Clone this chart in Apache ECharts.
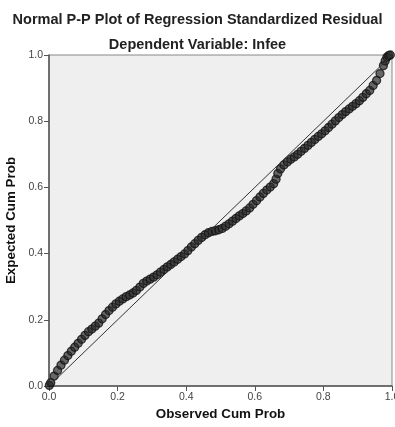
<!DOCTYPE html>
<html lang="en">
<head>
    <meta charset="utf-8">
    <title>Normal P-P Plot</title>
    <script src="https://cdn.jsdelivr.net/npm/echarts@6/dist/echarts.min.js"></script>
</head>
<body style="margin:0; background:#fff;">
<div id="main" style="width: 395px; height: 427px;"></div>
<script type="text/javascript">
    // observed cum prob (x) and expected cum prob (y)
    const observed = [0.001, 0.005, 0.015, 0.025, 0.035, 0.045, 0.055, 0.065, 0.075, 0.085, 0.095,
        0.105, 0.115, 0.125, 0.135, 0.145, 0.155, 0.165, 0.175, 0.185, 0.195,
        0.205, 0.215, 0.225, 0.235, 0.245, 0.255, 0.265, 0.275, 0.285, 0.295,
        0.305, 0.315, 0.325, 0.335, 0.345, 0.355, 0.365, 0.375, 0.385, 0.395,
        0.405, 0.415, 0.425, 0.435, 0.445, 0.455, 0.465, 0.475, 0.485, 0.495,
        0.505, 0.515, 0.525, 0.535, 0.545, 0.555, 0.565, 0.575, 0.585, 0.595,
        0.605, 0.615, 0.625, 0.635, 0.645, 0.655, 0.662, 0.667, 0.675, 0.685, 0.695,
        0.705, 0.715, 0.725, 0.735, 0.745, 0.755, 0.765, 0.775, 0.785, 0.795,
        0.805, 0.815, 0.825, 0.835, 0.845, 0.855, 0.865, 0.875, 0.885, 0.895,
        0.905, 0.915, 0.925, 0.935, 0.945, 0.955, 0.965, 0.975, 0.980, 0.985, 0.990, 0.995];
    const expected = [0.002, 0.010, 0.030, 0.047, 0.063, 0.078, 0.092, 0.105, 0.117, 0.129, 0.141,
        0.153, 0.164, 0.172, 0.181, 0.190, 0.203, 0.216, 0.228, 0.238, 0.248,
        0.256, 0.263, 0.270, 0.275, 0.281, 0.289, 0.299, 0.310, 0.317, 0.323,
        0.329, 0.336, 0.344, 0.352, 0.360, 0.367, 0.375, 0.383, 0.391, 0.399,
        0.409, 0.420, 0.430, 0.440, 0.449, 0.457, 0.463, 0.467, 0.469, 0.472,
        0.476, 0.483, 0.490, 0.498, 0.506, 0.514, 0.521, 0.529, 0.538, 0.549,
        0.560, 0.571, 0.582, 0.592, 0.601, 0.611, 0.625, 0.642, 0.656, 0.668, 0.677,
        0.685, 0.692, 0.700, 0.709, 0.718, 0.727, 0.736, 0.745, 0.754, 0.762,
        0.771, 0.781, 0.791, 0.801, 0.811, 0.820, 0.829, 0.837, 0.845, 0.853,
        0.862, 0.872, 0.883, 0.893, 0.908, 0.923, 0.944, 0.968, 0.982, 0.993, 0.998, 1.000];
    // reference diagonal
    const refX = [0, 1];
    const refY = [0, 1];

    const points = observed.map(function (x, i) { return [x, expected[i]]; });
    const refLine = refX.map(function (x, i) { return [x, refY[i]]; });

    let myChart = echarts.init(document.getElementById('main'));
    const axisCommon = {
        type: 'value',
        min: 0,
        max: 1,
        interval: 0.2,
        nameLocation: 'middle',
        nameTextStyle: {fontFamily: 'Liberation Sans', fontWeight: 'bold', fontSize: 13.4, color: '#111'},
        axisLine: {show: true, lineStyle: {color: '#555', width: 1.5}},
        axisTick: {show: true, length: 5, lineStyle: {color: '#555'}},
        axisLabel: {fontFamily: 'Liberation Sans', fontSize: 10.5, color: '#444',
            formatter: function (v) { return v.toFixed(1); }},
        splitLine: {show: false}
    };
    const option = {
        backgroundColor: '#fff',
        animation: false,
        title: [{
            text: 'Normal P-P Plot of Regression Standardized Residual',
            left: 'center', top: 7,
            textStyle: {fontFamily: 'Liberation Sans', fontWeight: 'bold', fontSize: 14.5, color: '#222'}
        }, {
            text: 'Dependent Variable: Infee',
            left: 'center', top: 32,
            textStyle: {fontFamily: 'Liberation Sans', fontWeight: 'bold', fontSize: 14.5, color: '#222'}
        }],
        grid: {
            left: 49, right: 3, top: 55, bottom: 41,
            outerBoundsMode: 'none',
            containLabel: false,
            show: true, backgroundColor: '#efefef', borderColor: '#888', borderWidth: 1
        },
        xAxis: Object.assign({}, axisCommon, {
            name: 'Observed Cum Prob', nameGap: 22,
            axisLabel: Object.assign({}, axisCommon.axisLabel, {margin: 6})
        }),
        yAxis: Object.assign({}, axisCommon, {
            name: 'Expected Cum Prob', nameGap: 28,
            axisLabel: Object.assign({}, axisCommon.axisLabel, {margin: 6})
        }),
        series: [{
            type: 'line',
            data: refLine,
            symbol: 'none',
            lineStyle: {color: '#333', width: 1},
            z: 3
        }, {
            type: 'scatter',
            data: points,
            symbol: 'circle',
            symbolSize: 8,
            itemStyle: {color: 'rgba(40,40,40,0.85)', borderColor: '#111', borderWidth: 1.3},
            z: 2
        }]
    };
    myChart.setOption(option);
</script>
</body>
</html>
